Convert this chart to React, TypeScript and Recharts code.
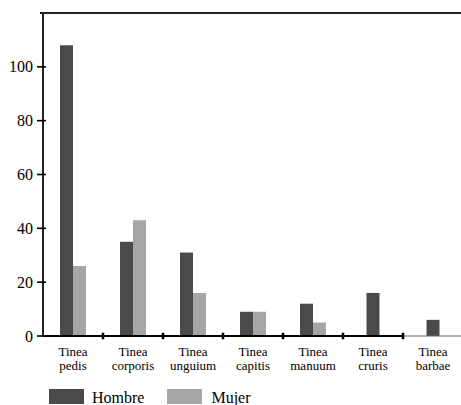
import React from 'react';
import { BarChart, Bar, XAxis, YAxis, ReferenceLine, Legend } from 'recharts';

const categories = ['Tinea pedis', 'Tinea corporis', 'Tinea unguium', 'Tinea capitis', 'Tinea manuum', 'Tinea cruris', 'Tinea barbae'];
const hombre = [108, 35, 31, 9, 12, 16, 6];
const mujer: (number | null)[] = [26, 43, 16, 9, 5, null, null];
const yTicks = [0, 20, 40, 60, 80, 100];
const seriesNames = ['Hombre', 'Mujer'];
const boundaryTicks = [1, 2, 3, 4, 5, 6];

const data = categories.map((name, i) => ({ name, pos: i + 0.5, hombre: hombre[i], mujer: mujer[i] }));

const DARK = '#4a4a4a';
const LIGHT = '#a6a6a6';
const FONT = 'Liberation Serif, DejaVu Serif, Times New Roman, serif';

const YTick = (props: any) => {
  const { x, y, payload } = props;
  return (
    <g>
      <line x1={x - 6} x2={x + 3} y1={y} y2={y} stroke="#000" strokeWidth={1.6} />
      <text x={x - 10} y={y} dy="0.35em" textAnchor="end" fontSize={16} fontFamily={FONT} style={{ fontFamily: FONT }} fill="#000">
        {payload.value}
      </text>
    </g>
  );
};

const XTick = (props: any) => {
  const { x, y, payload } = props;
  const parts = String(payload.value).split(' ');
  return (
    <g>
      <text x={x} y={y + 19.5} textAnchor="middle" fontSize={13} fontFamily={FONT} style={{ fontFamily: FONT }} fill="#000">
        {parts[0]}
      </text>
      <text x={x} y={y + 34} textAnchor="middle" fontSize={13} fontFamily={FONT} style={{ fontFamily: FONT }} fill="#000">
        {parts[1]}
      </text>
    </g>
  );
};

const HombreShape = (props: any) => {
  const { x, y, width, height, payload } = props;
  const shift = payload && payload.mujer == null ? width / 2 : 0;
  return <rect x={x + shift} y={y} width={width} height={height} fill={DARK} />;
};

const LegendContent = () => (
  <div style={{ display: 'flex', alignItems: 'center', fontFamily: FONT, fontSize: 16, color: '#000' }}>
    {seriesNames.map((n, i) => (
      <div key={n} style={{ display: 'flex', alignItems: 'center', marginRight: 23 }}>
        <div style={{ width: 35, height: 15, background: i === 0 ? DARK : LIGHT, marginRight: i === 0 ? 8 : 9 }} />
        <span style={{ lineHeight: '15px', position: 'relative', top: 1 }}>{n}</span>
      </div>
    ))}
  </div>
);

export default function App() {
  return (
    <div style={{ position: 'absolute', left: 0, top: 0, width: 461, height: 405, overflow: 'hidden', background: '#fff' }}>
      <BarChart
        width={470}
        height={405}
        data={data}
        margin={{ top: 13, right: 7, left: 0, bottom: 29 }}
        barGap={0}
      >
        <XAxis
          dataKey="name"
          axisLine={false}
          tickLine={false}
          tickSize={0}
          tickMargin={0}
          height={40}
          interval={0}
          tick={<XTick />}
        />
        <XAxis xAxisId="n" dataKey="pos" type="number" domain={[0, 7]} hide allowDataOverflow />
        <YAxis
          width={43}
          domain={[0, 120]}
          ticks={yTicks}
          axisLine={{ stroke: '#222', strokeWidth: 2 }}
          tickLine={false}
          tickSize={0}
          tickMargin={0}
          tick={<YTick />}
          allowDataOverflow
        />
        <ReferenceLine
          xAxisId="n"
          segment={[{ x: -0.05, y: 120 }, { x: 7, y: 120 }]}
          stroke="#222"
          strokeWidth={2}
          ifOverflow="visible"
        />
        <ReferenceLine
          xAxisId="n"
          segment={[{ x: 0, y: 0 }, { x: 6, y: 0 }]}
          stroke="#000"
          strokeWidth={2}
          ifOverflow="visible"
        />
        <ReferenceLine
          xAxisId="n"
          segment={[{ x: 6, y: 0 }, { x: 7, y: 0 }]}
          stroke="#666"
          strokeWidth={1}
          ifOverflow="visible"
        />
        {boundaryTicks.map((t) => (
          <ReferenceLine
            key={t}
            xAxisId="n"
            segment={[{ x: t, y: -1.2 }, { x: t, y: 1.2 }]}
            stroke="#000"
            strokeWidth={2.5}
            ifOverflow="visible"
          />
        ))}
        <Bar dataKey="hombre" name="Hombre" fill={DARK} barSize={13} shape={<HombreShape />} isAnimationActive={false} />
        <Bar dataKey="mujer" name="Mujer" fill={LIGHT} barSize={13} isAnimationActive={false} />
        <Legend
          layout="horizontal"
          verticalAlign="middle"
          align="center"
          content={<LegendContent />}
          wrapperStyle={{ position: 'absolute', left: 49, top: 389, width: 300 }}
        />
      </BarChart>
    </div>
  );
}
